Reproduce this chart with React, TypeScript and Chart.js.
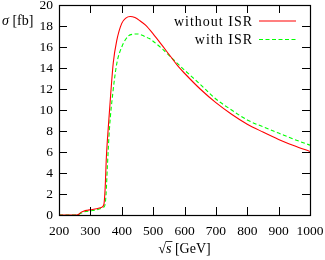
import React, { useEffect, useRef } from "react";
import { Chart, registerables } from "chart.js";

Chart.register(...registerables);

const xTicksMin = 200;
const xTicksMax = 1000;
const yTicksMin = 0;
const yTicksMax = 20;

const seriesLabels = ["without ISR", "with ISR"];
const seriesColors = ["rgb(255,0,0)", "rgb(0,255,0)"];

const xWithout = [200, 255, 262, 270, 280, 290, 300, 320, 335, 343, 347, 351, 357, 365, 373, 384, 400, 413, 427, 442, 458, 475, 500, 530, 555, 580, 600, 650, 700, 750, 800, 850, 900, 950, 1000];
const yWithout = [0, 0, 0.05, 0.25, 0.38, 0.45, 0.5, 0.6, 0.72, 1.0, 2.5, 5.5, 8.3, 11.6, 14.5, 16.6, 18.25, 18.75, 18.9, 18.8, 18.5, 18.1, 17.25, 16.1, 15.12, 14.15, 13.5, 12.0, 10.7, 9.6, 8.65, 7.9, 7.2, 6.6, 6.05];

const xWith = [200, 255, 265, 280, 300, 320, 340, 346, 350, 354, 361, 371.5, 384, 400, 421, 437, 450, 465, 475, 488, 500, 530, 555, 600, 650, 700, 750, 800, 850, 900, 950, 1000];
const yWith = [0, 0, 0.1, 0.3, 0.4, 0.5, 0.7, 0.9, 2.0, 4.5, 8.3, 11.6, 14.4, 16.0, 17.05, 17.22, 17.24, 17.12, 16.98, 16.8, 16.55, 15.8, 15.08, 13.8, 12.45, 11.05, 10.0, 9.05, 8.4, 7.8, 7.2, 6.65];

const FONT = "'Liberation Serif', 'DejaVu Serif', serif";

const framePlugin = {
  id: "frame",
  afterDatasetsDraw(chart: any) {
    const { ctx, chartArea, scales } = chart;
    const { left, right, top, bottom } = chartArea;
    const xs = scales.x;
    const ys = scales.y;
    const tl = 8;
    ctx.save();
    ctx.strokeStyle = "#000";
    ctx.lineWidth = 1;
    ctx.setLineDash([]);
    ctx.beginPath();
    xs.ticks.forEach((t: any) => {
      const px = Math.round(xs.getPixelForValue(t.value)) + 0.5;
      if (t.value === xs.min || t.value === xs.max) return;
      ctx.moveTo(px, bottom);
      ctx.lineTo(px, bottom - tl);
      ctx.moveTo(px, top);
      ctx.lineTo(px, top + tl);
    });
    ys.ticks.forEach((t: any) => {
      const py = Math.round(ys.getPixelForValue(t.value)) + 0.5;
      if (t.value === ys.min || t.value === ys.max) return;
      ctx.moveTo(left, py);
      ctx.lineTo(left + tl, py);
      ctx.moveTo(right, py);
      ctx.lineTo(right - tl, py);
    });
    ctx.stroke();
    ctx.lineWidth = 1.2;
    ctx.strokeRect(Math.round(left) + 0.5, Math.round(top) + 0.5, Math.round(right - left), Math.round(bottom - top));

    // legend text
    ctx.font = `14px ${FONT}`;
    (ctx as any).letterSpacing = "1px";
    ctx.textAlign = "right";
    ctx.textBaseline = "alphabetic";
    ctx.fillStyle = "#000";
    chart.data.datasets.forEach((ds: any, i: number) => {
      ctx.fillText(ds.label, 253, 26 + i * 17.7);
    });
    (ctx as any).letterSpacing = "0px";

    // legend samples
    for (let i = 0; i < chart.data.datasets.length; i++) {
      const ds = chart.data.datasets[i];
      const ly = i === 0 ? 21 : 39.5;
      ctx.beginPath();
      ctx.strokeStyle = seriesColors[i];
      ctx.lineWidth = 1.2;
      ctx.setLineDash(i === 1 ? [4, 2.5] : []);
      ctx.moveTo(259, ly);
      ctx.lineTo(296, ly);
      ctx.stroke();
    }
    ctx.setLineDash([]);

    // y axis label
    ctx.fillStyle = "#000";
    ctx.strokeStyle = "#000";
    ctx.textAlign = "left";
    ctx.textBaseline = "alphabetic";
    ctx.font = `italic 14px ${FONT}`;
    ctx.fillText("σ", 2, 25);
    const sw = ctx.measureText("σ").width;
    ctx.font = `14px ${FONT}`;
    ctx.fillText(" [fb]", 2 + sw, 25);

    // x axis label: sqrt(s) [GeV]
    const cx = (left + right) / 2;
    ctx.font = `14px ${FONT}`;
    const rootW = ctx.measureText("√").width;
    ctx.font = `italic 14px ${FONT}`;
    const sW = ctx.measureText("s").width;
    ctx.font = `14px ${FONT}`;
    const restW = ctx.measureText(" [GeV]").width;
    const total = rootW + sW + restW;
    let xx = cx - total / 2;
    const base = 253;
    ctx.fillText("√", xx, base);
    ctx.beginPath();
    ctx.lineWidth = 0.8;
    ctx.moveTo(xx + rootW - 0.5, base - 11.5);
    ctx.lineTo(xx + rootW + sW + 1, base - 11.5);
    ctx.stroke();
    xx += rootW;
    ctx.font = `italic 14px ${FONT}`;
    ctx.fillText("s", xx, base);
    xx += sW;
    ctx.font = `14px ${FONT}`;
    ctx.fillText(" [GeV]", xx, base);
    ctx.restore();
  },
};

export default function App() {
  const ref = useRef<HTMLCanvasElement | null>(null);
  useEffect(() => {
    document.body.style.margin = "0";
    const canvas = ref.current!;
    const zeroPad = (s: any) => {
      s.paddingTop = 0;
      s.paddingBottom = 0;
      s.paddingLeft = 0;
      s.paddingRight = 0;
    };
    const chart = new Chart(canvas, {
      type: "line",
      data: {
        datasets: [
          {
            label: seriesLabels[0],
            data: xWithout.map((x, i) => ({ x, y: yWithout[i] })),
            borderColor: seriesColors[0],
            borderWidth: 1.1,
            pointRadius: 0,
            cubicInterpolationMode: "monotone",
            fill: false,
          },
          {
            label: seriesLabels[1],
            data: xWith.map((x, i) => ({ x, y: yWith[i] })),
            borderColor: seriesColors[1],
            borderWidth: 1.1,
            borderDash: [4, 2.5],
            pointRadius: 0,
            cubicInterpolationMode: "monotone",
            fill: false,
          },
        ],
      },
      options: {
        animation: false,
        responsive: false,
        devicePixelRatio: 1,
        layout: { padding: { left: 0, right: 15, top: 5, bottom: 0 } },
        plugins: { legend: { display: false }, tooltip: { enabled: false } },
        scales: {
          x: {
            type: "linear",
            min: xTicksMin,
            max: xTicksMax,
            grid: { display: false, drawTicks: false },
            border: { display: false },
            ticks: {
              stepSize: 100,
              padding: 8,
              color: "#000",
              maxRotation: 0,
              autoSkip: false,
              font: { family: FONT, size: 13.5 },
              callback: (v: any) => String(v),
            },
            afterFit: (s: any) => {
              s.height = 45;
              zeroPad(s);
            },
          },
          y: {
            type: "linear",
            min: yTicksMin,
            max: yTicksMax,
            grid: { display: false, drawTicks: false },
            border: { display: false },
            ticks: {
              stepSize: 2,
              padding: 6,
              color: "#000",
              autoSkip: false,
              font: { family: FONT, size: 13.5 },
              callback: (v: any) => String(v),
            },
            afterFit: (s: any) => {
              s.width = 59;
              zeroPad(s);
            },
          },
        },
      },
      plugins: [framePlugin],
    } as any);
    return () => chart.destroy();
  }, []);
  return (
    <div style={{ width: 325, height: 260 }}>
      <canvas ref={ref} width={325} height={260} style={{ display: "block" }} />
    </div>
  );
}
